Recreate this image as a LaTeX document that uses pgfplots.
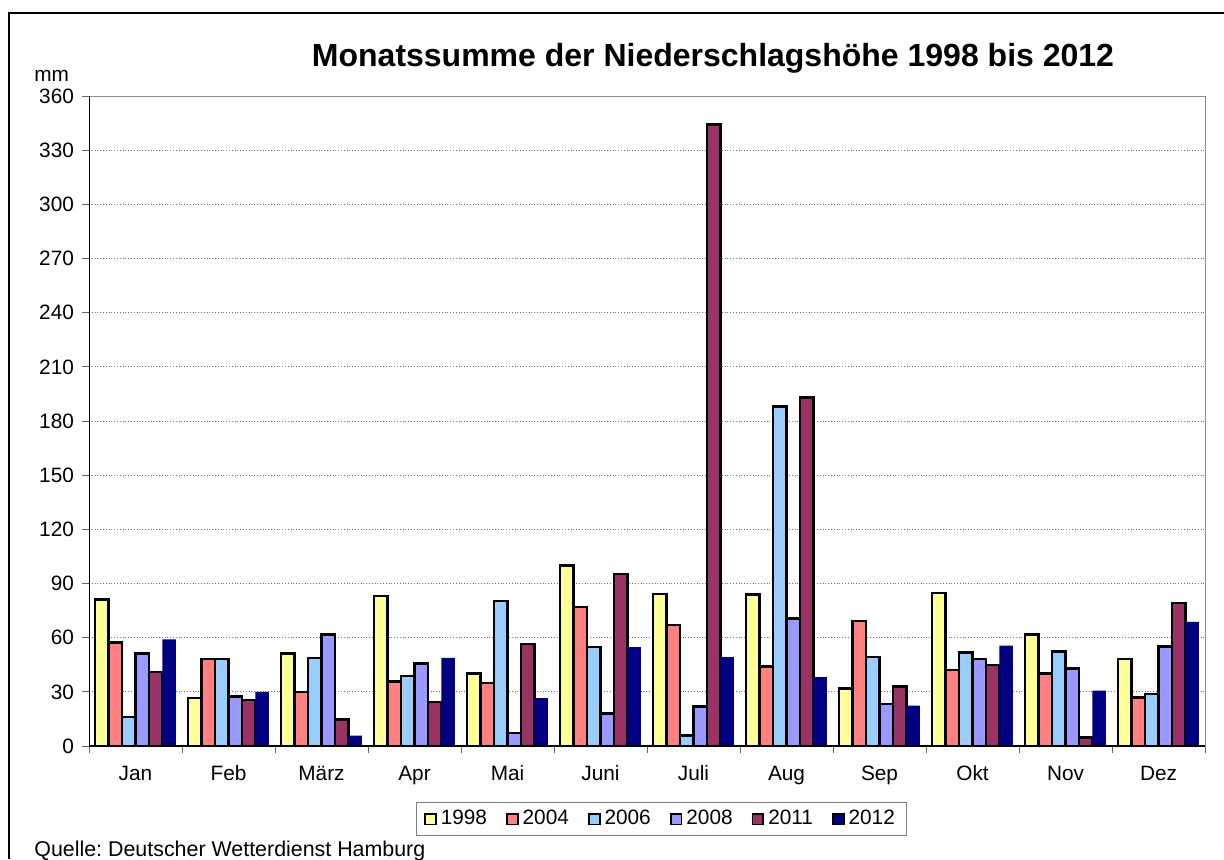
\documentclass[border=0pt]{standalone}
\usepackage{pgfplots}
\pgfplotsset{compat=1.18}
\usepackage{fontspec}
\setmainfont{Liberation Sans}
\frenchspacing
\definecolor{cA}{HTML}{FFFF99}
\definecolor{cB}{HTML}{FF8080}
\definecolor{cC}{HTML}{99CCFF}
\definecolor{cD}{HTML}{9999FF}
\definecolor{cE}{HTML}{993366}
\definecolor{cF}{HTML}{000080}
\begin{document}
\begin{tikzpicture}
\path[use as bounding box] (0,0) rectangle (612pt,-429.5pt);
\draw[black, line width=1.1pt] (4.5pt,-429.5pt) -- (4.5pt,-6.5pt) -- (612pt,-6.5pt);
\begin{axis}[
  at={(44.5pt,-373pt)}, anchor=south west,
  scale only axis, width=558pt, height=325pt,
  xmin=-0.5, xmax=11.5, ymin=0, ymax=360,
  ybar=0pt, bar width=0.1446,
  xtick={0,...,11},
  xticklabels={Jan,Feb,März,Apr,Mai,Juni,Juli,Aug,Sep,Okt,Nov,Dez},
  minor xtick={-0.5,0.5,...,11.5},
  major x tick style={draw=none},
  minor x tick style={black!60, line width=0.5pt},
  minor tick length=3.5pt,
  ytick={0,30,...,360},
  y tick style={black!60, line width=0.5pt},
  major tick length=3.5pt,
  tick align=outside,
  tick pos=left,
  ymajorgrids,
  grid style={black!55, densely dotted, line width=0.5pt},
  axis line style={black!45, line width=0.5pt},
  ticklabel style={font=\fontsize{10.4pt}{12pt}\selectfont},
  /pgf/number format/assume math mode=true,
  xticklabel style={yshift=-2pt, text height=8pt, text depth=2.5pt},
  yticklabel style={xshift=-0.5pt},
  legend columns=6,
  legend style={at={(0.513,-0.1123)}, anchor=center, draw=black!50, line width=0.5pt,
    font=\fontsize{10.4pt}{12pt}\selectfont, inner xsep=4pt, inner ysep=2pt,
    /tikz/every even column/.append style={column sep=7.5pt}},
  legend image code/.code={\draw[#1, line width=0.9pt] (0pt,-2.7pt) rectangle (5.4pt,2.7pt);},
  every axis plot/.append style={line width=1.3pt},
]
\addplot[fill=cA, draw=black] coordinates {(0,81.2) (1,26.5) (2,51.4) (3,83.2) (4,40.3) (5,100) (6,84.3) (7,84) (8,32) (9,84.7) (10,61.7) (11,48.2)};
\addplot[fill=cB, draw=black] coordinates {(0,57.2) (1,48.2) (2,30) (3,35.9) (4,35) (5,77.1) (6,67) (7,44) (8,69.2) (9,42) (10,40.3) (11,27)};
\addplot[fill=cC, draw=black] coordinates {(0,16) (1,48.2) (2,48.8) (3,38.8) (4,80.3) (5,54.9) (6,5.9) (7,188.2) (8,49.3) (9,51.9) (10,52.5) (11,28.9)};
\addplot[fill=cD, draw=black] coordinates {(0,51.2) (1,27.4) (2,61.7) (3,45.6) (4,7.3) (5,18) (6,21.9) (7,70.7) (8,23.2) (9,48.2) (10,42.9) (11,55)};
\addplot[fill=cE, draw=black] coordinates {(0,41) (1,25.6) (2,14.7) (3,24.3) (4,56.5) (5,95.2) (6,344.2) (7,192.9) (8,32.9) (9,44.9) (10,4.8) (11,79.3)};
\addplot[fill=cF, draw=none] coordinates {(0,59) (1,30) (2,5.7) (3,48.8) (4,26.5) (5,54.8) (6,49.2) (7,38.1) (8,22.4) (9,55.6) (10,30.7) (11,68.8)};
\legend{1998,2004,2006,2008,2011,2012}
\draw[black, line width=0.6pt] (rel axis cs:0,1) -- (rel axis cs:0,0) -- (rel axis cs:1,0);
\end{axis}
\node[anchor=base, font=\bfseries\fontsize{16pt}{19pt}\selectfont] at (356.5pt,-33pt) {Monatssumme der Niederschlagshöhe 1998 bis 2012};
\node[anchor=base west, inner sep=0pt, font=\fontsize{10.4pt}{12pt}\selectfont] at (17pt,-40.5pt) {mm};
\node[anchor=base west, inner sep=0pt, font=\fontsize{10.7pt}{12pt}\selectfont] at (17pt,-428pt) {Quelle: Deutscher Wetterdienst Hamburg};
\end{tikzpicture}
\end{document}
